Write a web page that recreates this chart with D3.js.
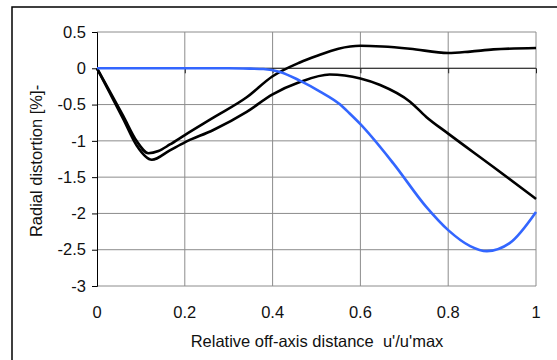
<!DOCTYPE html>
<html lang="en">
  <head>
    <meta charset="UTF-8" />
    <title>Radial distortion</title>
    <script src="https://d3js.org/d3.v7.min.js"></script>
    <style>
      body {
        margin: 0;
        background: #fff;
        font-family: Arial, "Liberation Sans", sans-serif;
      }
    </style>
  </head>
  <body>
    <svg id="chart" width="557" height="360"></svg>
    <script>
      // values
      const xTicks = [0, 0.2, 0.4, 0.6, 0.8, 1];
      const yTicks = [0.5, 0, -0.5, -1, -1.5, -2, -2.5, -3];

      const upperU = [0, 0.03, 0.06, 0.09, 0.117, 0.14, 0.166, 0.2, 0.265, 0.341, 0.4, 0.462, 0.5, 0.55, 0.6, 0.65, 0.713, 0.8, 0.85, 0.903, 1];
      const upperV = [0, -0.33, -0.66, -1.0, -1.17, -1.14, -1.05, -0.92, -0.68, -0.4, -0.11, 0.08, 0.17, 0.27, 0.31, 0.3, 0.27, 0.21, 0.23, 0.26, 0.28];

      const lowerU = [0, 0.03, 0.06, 0.09, 0.125, 0.166, 0.2, 0.265, 0.341, 0.4, 0.462, 0.53, 0.6, 0.645, 0.713, 0.75, 0.8, 0.903, 1];
      const lowerV = [0, -0.35, -0.7, -1.06, -1.26, -1.13, -1.02, -0.85, -0.6, -0.36, -0.19, -0.085, -0.14, -0.23, -0.46, -0.67, -0.9, -1.36, -1.8];

      const blueU = [0, 0.1, 0.2, 0.3, 0.35, 0.379, 0.417, 0.462, 0.508, 0.554, 0.575, 0.6, 0.675, 0.75, 0.8, 0.85, 0.888, 0.94, 1];
      const blueV = [0, 0, 0, 0, -0.005, -0.01, -0.05, -0.17, -0.32, -0.5, -0.62, -0.77, -1.31, -1.91, -2.23, -2.45, -2.52, -2.41, -1.98];

      const fontSize = 16.5;
      const svg = d3.select("#chart");

      const x = d3.scaleLinear().domain([0, 1]).range([97, 536]);
      const y = d3.scaleLinear().domain([-3, 0.5]).range([286, 32]);

      // outer frame
      svg.append("rect")
        .attr("x", 12).attr("y", 7)
        .attr("width", 560).attr("height", 370)
        .attr("fill", "none").attr("stroke", "#000").attr("stroke-width", 1.5);

      // grid
      const grid = svg.append("g").attr("stroke", "#8c8c8c").attr("stroke-width", 1);
      grid.selectAll("line.h").data(yTicks).enter().append("line")
        .attr("x1", x(0)).attr("x2", x(1))
        .attr("y1", (d) => y(d)).attr("y2", (d) => y(d));
      grid.selectAll("line.v").data(xTicks.slice(1)).enter().append("line")
        .attr("x1", (d) => x(d)).attr("x2", (d) => x(d))
        .attr("y1", y(0.5)).attr("y2", y(-3));

      // y axis (plain hyphen minus like the original)
      const yAxis = svg.append("g")
        .attr("transform", `translate(${x(0)},0)`)
        .call(d3.axisLeft(y).tickValues(yTicks).tickSize(5).tickPadding(6).tickFormat((d) => String(d)));
      yAxis.select(".domain").attr("stroke", "#000");
      yAxis.selectAll("text").attr("font-size", fontSize).attr("fill", "#111")
        .attr("font-family", "Arial, 'Liberation Sans', sans-serif");

      // x axis line crossing at 0, labels at the bottom
      const xAxis = svg.append("g")
        .attr("transform", `translate(0,${y(0)})`)
        .call(d3.axisBottom(x).tickValues(xTicks.slice(1)).tickSize(5).tickFormat(""));
      xAxis.select(".domain").attr("stroke", "#222").attr("d", `M${x(0)},0H${x(1)}`);
      xAxis.selectAll("line").attr("stroke", "#222");

      svg.append("g").selectAll("text").data(xTicks).enter().append("text")
        .attr("x", (d) => x(d)).attr("y", 318)
        .attr("text-anchor", "middle").attr("font-size", fontSize).attr("fill", "#111")
        .text((d) => d);

      const line = d3.line()
        .x((d) => x(d[0])).y((d) => y(d[1]))
        .curve(d3.curveMonotoneX);

      svg.append("path").datum(d3.zip(upperU, upperV))
        .attr("d", line).attr("fill", "none").attr("stroke", "#000").attr("stroke-width", 2.6);
      svg.append("path").datum(d3.zip(lowerU, lowerV))
        .attr("d", line).attr("fill", "none").attr("stroke", "#000").attr("stroke-width", 2.6);
      svg.append("path").datum(d3.zip(blueU, blueV))
        .attr("d", line).attr("fill", "none").attr("stroke", "#3366ff").attr("stroke-width", 2.6);

      // axis titles
      svg.append("text")
        .attr("x", 317).attr("y", 347)
        .attr("text-anchor", "middle").attr("font-size", fontSize).attr("fill", "#111")
        .attr("xml:space", "preserve")
        .text("Relative off-axis distance  u'/u'max");

      svg.append("text")
        .attr("transform", `translate(42,161) rotate(-90)`)
        .attr("text-anchor", "middle").attr("font-size", fontSize).attr("fill", "#111")
        .text("Radial distortion [%]-");
    </script>
  </body>
</html>
